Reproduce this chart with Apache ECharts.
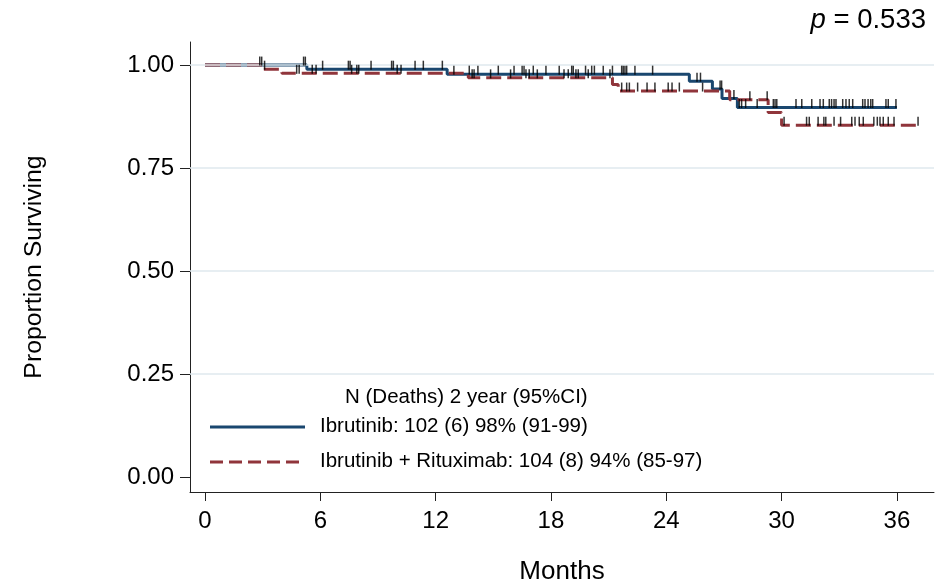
<!DOCTYPE html>
<html>
<head>
<meta charset="utf-8">
<script src="https://cdn.jsdelivr.net/npm/echarts@6/dist/echarts.min.js"></script>
<style>
html, body { margin: 0; padding: 0; background: #fff; }
#main { width: 946px; height: 581px; }
</style>
</head>
<body>
<div id="main"></div>
<script>
// Kaplan-Meier steps (month of death, survival after it)
var ibrTimes = [0, 5.3, 12.6, 25.2, 26.4, 26.9, 27.7, 36.0];
var ibrSurv  = [1.0, 0.99, 0.978, 0.961, 0.942, 0.919, 0.897, 0.897];
var irTimes  = [0, 3.0, 4.0, 13.7, 21.2, 21.5, 27.3, 29.3, 30.0, 37.1];
var irSurv   = [1.0, 0.99, 0.98, 0.969, 0.953, 0.937, 0.916, 0.885, 0.854, 0.854];

// censored times (months)
var ibrCensor = [2.85, 2.95, 5.13, 5.22, 6.12, 7.46, 7.55, 8.64, 9.71, 9.8, 10.93, 11.36,
  12.35, 12.95, 13.75, 14.2, 15.26, 16.08, 16.5, 16.6, 17.08, 17.74, 18.43, 19.08, 19.16,
  19.8, 20.12, 20.26, 20.72, 21.2, 21.68, 21.76, 21.85, 21.94, 22.37, 23.29, 25.6, 25.78,
  26.8, 26.88, 27.52, 27.8, 27.92, 28.13, 28.73, 29.57, 29.66, 29.75, 30.75, 31.05, 31.57,
  32.0, 32.17, 32.48, 32.6, 32.73, 32.83, 33.18, 33.35, 33.52, 33.7, 34.22, 34.34, 34.5,
  34.64, 34.74, 35.43, 35.55, 35.95];
var irCensor = [3.1, 4.77, 4.9, 5.58, 5.78, 7.63, 7.9, 8.0, 10.0, 10.2, 13.9, 14.0, 14.86,
  15.9, 16.7, 16.87, 17.29, 18.68, 18.9, 19.3, 19.42, 19.94, 21.07, 21.68, 21.94, 22.08,
  22.51, 23.0, 23.41, 24.1, 24.3, 24.68, 25.89, 28.35, 29.25, 30.13, 31.3, 31.44, 31.9,
  32.2, 32.3, 32.73, 33.07, 33.65, 33.82, 34.04, 34.25, 34.8, 34.98, 35.12, 35.29, 35.55,
  35.85, 37.1];

var xTicks = [0, 6, 12, 18, 24, 30, 36];
var yTicks = [0, 0.25, 0.5, 0.75, 1];
var gridVals = [0.25, 0.5, 0.75, 1];

var legendTitle = 'N (Deaths) 2 year (95%CI)';
var legendNames = ['Ibrutinib: 102 (6) 98% (91-99)', 'Ibrutinib + Rituximab: 104 (8) 94% (85-97)'];
var pText = '0.533';

var FONT = '"Liberation Sans", Arial, sans-serif';

function pairs(t, s) {
  return t.map(function (v, i) { return [v, s[i]]; });
}
function survAt(t, s, x) {
  var v = s[0];
  for (var i = 0; i < t.length; i++) { if (t[i] <= x) v = s[i]; }
  return v;
}
function censorPts(c, t, s) {
  return c.map(function (x) { return [x, survAt(t, s, x)]; });
}

var myChart = echarts.init(document.getElementById('main'));

var option = {
  animation: false,
  backgroundColor: '#fff',
  grid: { left: 190, right: 12, top: 42, bottom: 89, containLabel: false, outerBoundsMode: 'none' },
  xAxis: {
    type: 'value',
    min: -0.78,
    max: 37.93,
    name: 'Months',
    nameLocation: 'middle',
    nameGap: 67,
    nameTextStyle: { fontFamily: FONT, fontSize: 26, color: '#000' },
    axisLine: { show: true, onZero: false, lineStyle: { color: '#222', width: 1 } },
    axisTick: { show: true, length: 9, customValues: xTicks, lineStyle: { color: '#222' } },
    axisLabel: { customValues: xTicks, margin: 17, fontFamily: FONT, fontSize: 24, color: '#000' },
    splitLine: { show: false }
  },
  yAxis: {
    type: 'value',
    min: -0.036,
    max: 1.056,
    name: 'Proportion Surviving',
    nameLocation: 'middle',
    nameGap: 143,
    nameRotate: 90,
    nameTextStyle: { fontFamily: FONT, fontSize: 24.8, color: '#000' },
    axisLine: { show: true, onZero: false, lineStyle: { color: '#222', width: 1 } },
    axisTick: { show: true, length: 10, customValues: yTicks, lineStyle: { color: '#222' } },
    axisLabel: {
      customValues: yTicks, margin: 16, fontFamily: FONT, fontSize: 24, color: '#000',
      formatter: function (v) { return v.toFixed(2); }
    },
    splitLine: { show: false }
  },
  series: [
    {
      type: 'line',
      data: [],
      z: 1,
      silent: true,
      markLine: {
        silent: true,
        symbol: ['none', 'none'],
        label: { show: false },
        lineStyle: { color: '#dfe9ee', width: 1.5, type: 'solid' },
        data: gridVals.map(function (v) { return { yAxis: v }; })
      }
    },
    {
      name: legendNames[0],
      type: 'line',
      step: 'end',
      z: 3,
      showSymbol: false,
      symbol: 'none',
      lineStyle: { color: '#1a476f', width: 3 },
      data: pairs(ibrTimes, ibrSurv)
    },
    {
      name: legendNames[1],
      type: 'line',
      step: 'end',
      z: 4,
      showSymbol: false,
      symbol: 'none',
      lineStyle: { color: '#90353b', width: 3, type: [15, 6] },
      data: pairs(irTimes, irSurv)
    },
    {
      type: 'scatter',
      z: 5,
      symbol: 'rect',
      symbolSize: [1.5, 9],
      symbolOffset: [0, -4],
      itemStyle: { color: '#000' },
      data: censorPts(ibrCensor, ibrTimes, ibrSurv)
    },
    {
      type: 'scatter',
      z: 5,
      symbol: 'rect',
      symbolSize: [1.5, 9],
      symbolOffset: [0, -4],
      itemStyle: { color: '#000' },
      data: censorPts(irCensor, irTimes, irSurv)
    }
  ],
  graphic: [
    {
      type: 'text', left: 345, top: 387,
      style: { text: legendTitle, fontFamily: FONT, fontSize: 20.5, fill: '#000' }
    },
    {
      type: 'line', shape: { x1: 210, y1: 427, x2: 305, y2: 427 },
      style: { stroke: '#1a476f', lineWidth: 3 }
    },
    {
      type: 'text', left: 320, top: 416,
      style: { text: legendNames[0], fontFamily: FONT, fontSize: 20.5, fill: '#000' }
    },
    {
      type: 'line', shape: { x1: 210, y1: 462, x2: 305, y2: 462 },
      style: { stroke: '#90353b', lineWidth: 3, lineDash: [13, 6] }
    },
    {
      type: 'text', left: 320, top: 451,
      style: { text: legendNames[1], fontFamily: FONT, fontSize: 20.5, fill: '#000' }
    },
    {
      type: 'text', right: 20, top: 6,
      style: {
        text: '{i|p} = ' + pText,
        rich: { i: { fontStyle: 'italic', fontFamily: FONT, fontSize: 27.5 } },
        fontFamily: FONT, fontSize: 27.5, fill: '#000'
      }
    }
  ]
};

myChart.setOption(option);
window.addEventListener('resize', function () {
  myChart.resize();
});
</script>
</body>
</html>
